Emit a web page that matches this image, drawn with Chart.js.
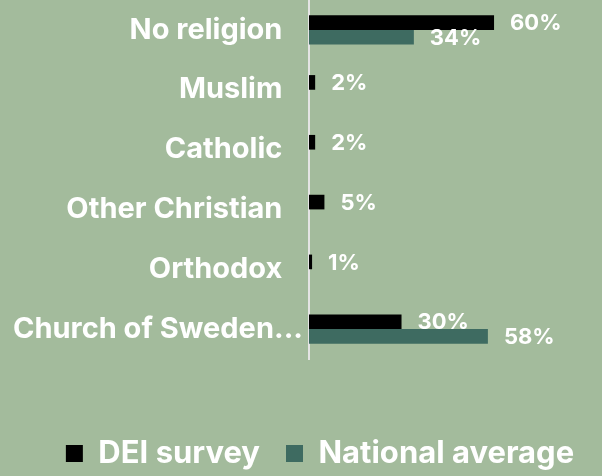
<!DOCTYPE html>
<html>
<head>
<meta charset="utf-8">
<script src="https://cdn.jsdelivr.net/npm/chart.js@4.4.0/dist/chart.umd.min.js"></script>
<style>
  html, body { margin: 0; padding: 0; background: #a3bb9c; }
  #wrap { width: 602px; height: 476px; }
</style>
</head>
<body>
<div id="wrap"><canvas id="chart" width="602" height="476"></canvas></div>
<script>
const categories = ['No religion', 'Muslim', 'Catholic', 'Other Christian', 'Orthodox', 'Church of Sweden...'];
const deiSurvey = [60, 2, 2, 5, 1, 30];
const nationalAverage = [34, null, null, null, null, 58];

const FONT = 'Inter, "Open Sans", sans-serif';

// writes "NN%" to the right of every bar
const valueLabels = {
    id: 'valueLabels',
    afterDatasetsDraw(chart) {
        const ctx = chart.ctx;
        ctx.save();
        ctx.fillStyle = '#ffffff';
        ctx.font = 'bold 22px ' + FONT;
        ctx.textAlign = 'left';
        ctx.textBaseline = 'middle';
        chart.data.datasets.forEach((ds, i) => {
            chart.getDatasetMeta(i).data.forEach((bar, j) => {
                const v = ds.data[j];
                if (v === null || v === undefined) return;
                ctx.fillText(v + '%', bar.x + 16, bar.y + 1);
            });
        });
        ctx.restore();
    }
};

// nudge the legend a bit right and down
const legendShift = {
    id: 'legendShift',
    afterLayout(chart) {
        const lg = chart.legend;
        lg.left += 19; lg.right += 19;
        lg.top += 3; lg.bottom += 3;
    }
};

new Chart(document.getElementById('chart'), {
    type: 'bar',
    data: {
        labels: categories,
        datasets: [
            { label: 'DEI survey', data: deiSurvey, backgroundColor: '#000000' },
            { label: 'National average', data: nationalAverage, backgroundColor: '#3e6b61' }
        ]
    },
    options: {
        indexAxis: 'y',
        responsive: false,
        animation: false,
        categoryPercentage: 0.49,
        barPercentage: 1,
        layout: { padding: 0 },
        scales: {
            x: {
                min: 0,
                max: 95,
                grid: { display: false },
                border: { display: false },
                ticks: { display: false },
                afterFit(scale) { scale.height = 50; }
            },
            y: {
                grid: { display: false },
                border: { display: true, color: '#e4e4e4', width: 2 },
                ticks: {
                    color: '#ffffff',
                    padding: -2,
                    font: { family: FONT, size: 29, weight: 'bold' },
                    callback(value) {
                        const l = categories[value];
                        return l.endsWith('...') ? l : l + '\u00a0\u00a0\u00a0';
                    }
                },
                afterFit(scale) {
                    scale.width = 309;
                    scale.paddingTop = 0;
                    scale.paddingBottom = 0;
                }
            }
        },
        plugins: {
            legend: {
                position: 'bottom',
                labels: {
                    color: '#ffffff',
                    boxWidth: 17,
                    boxHeight: 17,
                    padding: 26,
                    font: { family: FONT, size: 31, weight: 'bold' }
                }
            },
            tooltip: { enabled: false }
        }
    },
    plugins: [valueLabels, legendShift]
});
</script>
</body>
</html>
